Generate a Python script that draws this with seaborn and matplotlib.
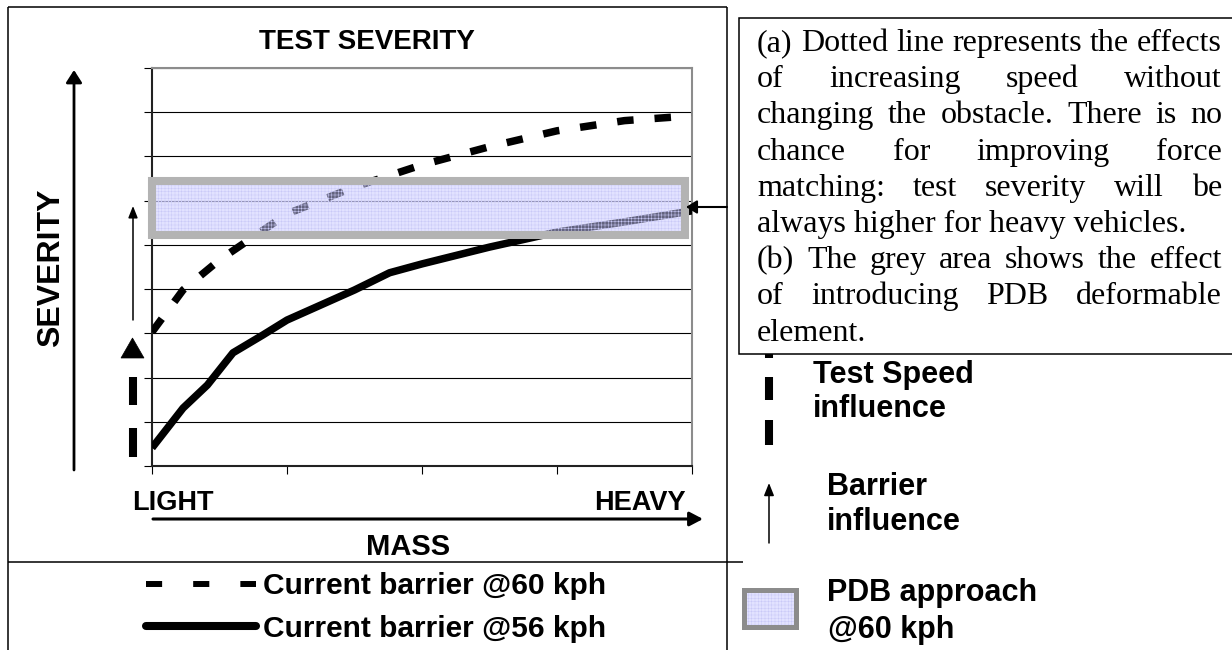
import matplotlib
matplotlib.use('Agg')
import numpy as np
import pandas as pd
import seaborn as sns
import matplotlib.pyplot as plt
from matplotlib.patches import Rectangle, Polygon
from matplotlib.lines import Line2D
from matplotlib.font_manager import FontProperties

# ---------------- data ----------------
mass_60 = [0.0, 0.23, 0.5, 1.0, 1.5, 2.0, 2.5, 3.0, 3.5, 4.0]
severity_60 = [3.03, 3.98, 4.66, 5.70, 6.31, 6.81, 7.22, 7.58, 7.81, 7.92]
mass_56 = [0.0, 0.23, 0.41, 0.6, 0.82, 1.0, 1.5, 1.76, 2.0, 2.5, 3.0, 3.5, 4.0]
severity_56 = [0.41, 1.31, 1.83, 2.56, 2.96, 3.30, 3.98, 4.37, 4.57, 4.95, 5.29, 5.52, 5.77]
series_names = ['Current barrier @60 kph', 'Current barrier @56 kph']
pdb_severity = [5.23, 6.45]
pdb_mass = [0.0, 3.95]
x_ticks = [0, 1, 2, 3, 4]
y_ticks = list(range(10))
title_text = 'TEST SEVERITY'
y_title = 'SEVERITY'
x_title = 'MASS'
x_ends = ['LIGHT', 'HEAVY']
note_lines = [
    '(a) Dotted line represents the effects',
    'of increasing speed without',
    'changing the obstacle. There is no',
    'chance for improving force',
    'matching: test severity will be',
    'always higher for heavy vehicles.',
    '(b) The grey area shows the effect',
    'of introducing PDB deformable',
    'element.',
]
note_justify = [True, True, True, True, True, False, True, True, False]
side_labels = [['Test Speed', 'influence'], ['Barrier', 'influence'], ['PDB approach', '@60 kph']]

# ---------------- style ----------------
sns.set_theme(style='white')
plt.rcParams['font.family'] = ['Liberation Sans', 'DejaVu Sans']
plt.rcParams['hatch.linewidth'] = 0.35
plt.rcParams['text.color'] = 'black'
plt.rcParams['legend.labelcolor'] = 'black'

W, H = 1232, 650
fig = plt.figure(figsize=(W / 100, H / 100), dpi=100)
fig.patch.set_facecolor('white')

ax = fig.add_axes([152 / W, 1 - 466 / H, 540 / W, 398 / H])
ax.set_facecolor('white')

df = pd.concat([
    pd.DataFrame({'mass': mass_60, 'severity': severity_60, 'series': series_names[0]}),
    pd.DataFrame({'mass': mass_56, 'severity': severity_56, 'series': series_names[1]}),
], ignore_index=True)

sns.lineplot(data=df, x='mass', y='severity', style='series', style_order=series_names,
             dashes={series_names[0]: (2.2, 2.8), series_names[1]: ''},
             color='black', lw=5.4, errorbar=None, legend=False, ax=ax, zorder=3,
             sort=False)
for ln in ax.get_lines():
    ln.set_dash_capstyle('butt')
    ln.set_solid_capstyle('butt')
    ln.set_solid_joinstyle('round')

ax.set_xlim(0, 4)
ax.set_ylim(0, 9)
ax.set_xticks(x_ticks)
ax.set_yticks(y_ticks)
ax.set_xticklabels([])
ax.set_yticklabels([])
ax.set_xlabel('')
ax.set_ylabel('')
ax.tick_params(axis='both', which='both', direction='out', length=5.5, width=0.8,
               color='black', bottom=True, left=True)
ax.yaxis.grid(True, color='black', lw=0.8)
ax.xaxis.grid(False)
ax.set_axisbelow(True)
for s in ['left', 'bottom']:
    ax.spines[s].set_color('#222222')
    ax.spines[s].set_linewidth(1.5)
for s in ['top', 'right']:
    ax.spines[s].set_color('#8c8c8c')
    ax.spines[s].set_linewidth(1.5)

# PDB band
bx0, bx1 = pdb_mass
by0, by1 = pdb_severity
ax.add_patch(Rectangle((bx0, by0), bx1 - bx0, by1 - by0, fill=False, lw=0,
                       edgecolor=(0.80, 0.80, 0.94), hatch='+++++', zorder=4.5, clip_on=False))
ax.add_patch(Rectangle((bx0, by0), bx1 - bx0, by1 - by0, facecolor=(0.78, 0.78, 1.0, 0.5),
                       edgecolor='#b3b3b3', lw=5.8, zorder=5, clip_on=False))

# legend of the two series
fp = FontProperties(family='Liberation Sans', weight='bold', size=21.5)
handles = [Line2D([], [], color='black', lw=4.3, linestyle=(0, (2.7, 5.2)), dash_capstyle='butt'),
           Line2D([], [], color='black', lw=5.8, solid_capstyle='round')]
leg = ax.legend(handles=handles, labels=series_names, loc='center left',
                bbox_to_anchor=(146 / W, 1 - 607.5 / H), bbox_transform=fig.transFigure,
                frameon=False, prop=fp, handlelength=3.7, handletextpad=0.22,
                labelspacing=0.48, borderpad=0, borderaxespad=0, labelcolor='black')

# ---------------- overlay (pixel coordinates) ----------------
ov = fig.add_axes([0, 0, 1, 1], zorder=10)
ov.set_xlim(0, W)
ov.set_ylim(H, 0)
ov.axis('off')
ov.patch.set_visible(False)


def seg(xs, ys, lw=1.1, color='black', cap='butt', z=2):
    ov.add_line(Line2D(xs, ys, lw=lw, color=color, solid_capstyle=cap, zorder=z))


def arrow(tail, tip, lw, hl, hw):
    ov.annotate('', xy=tip, xytext=tail, xycoords='data', textcoords='data',
                arrowprops=dict(arrowstyle=f'-|>,head_length={hl},head_width={hw}',
                                lw=lw, color='black', shrinkA=0, shrinkB=0,
                                mutation_scale=1))


# chart frame / table lines
seg([8, 727], [7, 7])
seg([8, 8], [7, 650])
seg([727, 727], [7, 650])
seg([8, 743], [562, 562])

# titles and axis words
bold = dict(fontweight='bold', color='black')
ov.text(367, 42, title_text, ha='center', va='center', fontsize=20, **bold)
ov.text(51, 268, y_title, rotation=90, ha='center', va='center', fontsize=23, **bold)
ov.text(132, 510, x_ends[0], ha='left', va='baseline', fontsize=19.5, **bold)
ov.text(686, 510, x_ends[1], ha='right', va='baseline', fontsize=19.5, **bold)
ov.text(408, 555, x_title, ha='center', va='baseline', fontsize=21, **bold)

# arrows on the chart
arrow((74, 470), (74, 70), 2.0, 7.5, 4.8)        # severity axis arrow
arrow((153, 519), (703, 519), 2.2, 8.0, 4.2)     # mass axis arrow
arrow((133, 320), (133, 206), 1.1, 7.0, 2.8)     # barrier influence
arrow((727, 207), (686, 207), 1.5, 6.5, 4.0)     # pointer to PDB band
# test speed influence (dashed arrow)
seg([132.5, 132.5], [377, 405], lw=5.8)
seg([132.5, 132.5], [428, 457], lw=5.8)
ov.add_patch(Polygon([(121, 358), (144, 358), (132.5, 338)], closed=True,
                     facecolor='black', edgecolor='black', lw=0.5))

# text box with justified notes
ov.add_patch(Rectangle((739, 18), 560, 336, facecolor='white', edgecolor='black',
                       lw=1.1, zorder=3))
renderer = fig.canvas.get_renderer()
serif = dict(family=['Liberation Serif', 'DejaVu Serif'], fontsize=23, color='black',
             va='baseline', ha='left', zorder=4)
tx0, tx1 = 757, 1222
for i, (line, just) in enumerate(zip(note_lines, note_justify)):
    yb = 51 + 36.2 * i
    if not just:
        ov.text(tx0, yb, line, **serif)
        continue
    words = line.split(' ')
    ts = [ov.text(0, yb, w, **serif) for w in words]
    widths = [t.get_window_extent(renderer).width for t in ts]
    gap = (tx1 - tx0 - sum(widths)) / (len(words) - 1)
    x = tx0
    for t, w in zip(ts, widths):
        t.set_x(x)
        x += w + gap

# side legend
seg([769, 769], [352, 358], lw=5.8, z=2)
seg([769, 769], [377, 400], lw=5.8)
seg([769, 769], [420, 445], lw=5.8)
ov.text(813, 383, side_labels[0][0], ha='left', va='baseline', fontsize=22, **bold)
ov.text(813, 417, side_labels[0][1], ha='left', va='baseline', fontsize=22, **bold)
arrow((769, 543), (769, 483), 1.1, 7.5, 3.0)
ov.text(827, 495, side_labels[1][0], ha='left', va='baseline', fontsize=22, **bold)
ov.text(827, 530, side_labels[1][1], ha='left', va='baseline', fontsize=22, **bold)
ov.add_patch(Rectangle((743.5, 589.5), 52, 37, fill=False, lw=0,
                       edgecolor=(0.80, 0.80, 0.94), hatch='+++++', zorder=2))
ov.add_patch(Rectangle((743.5, 589.5), 52, 37, facecolor=(0.78, 0.78, 1.0, 0.5),
                       edgecolor='#8c8c8c', lw=3.6, zorder=3))
ov.text(827, 601, side_labels[2][0], ha='left', va='baseline', fontsize=22, **bold)
ov.text(828, 638, side_labels[2][1], ha='left', va='baseline', fontsize=22, **bold)

fig.savefig('out.png', dpi=100, facecolor='white')
